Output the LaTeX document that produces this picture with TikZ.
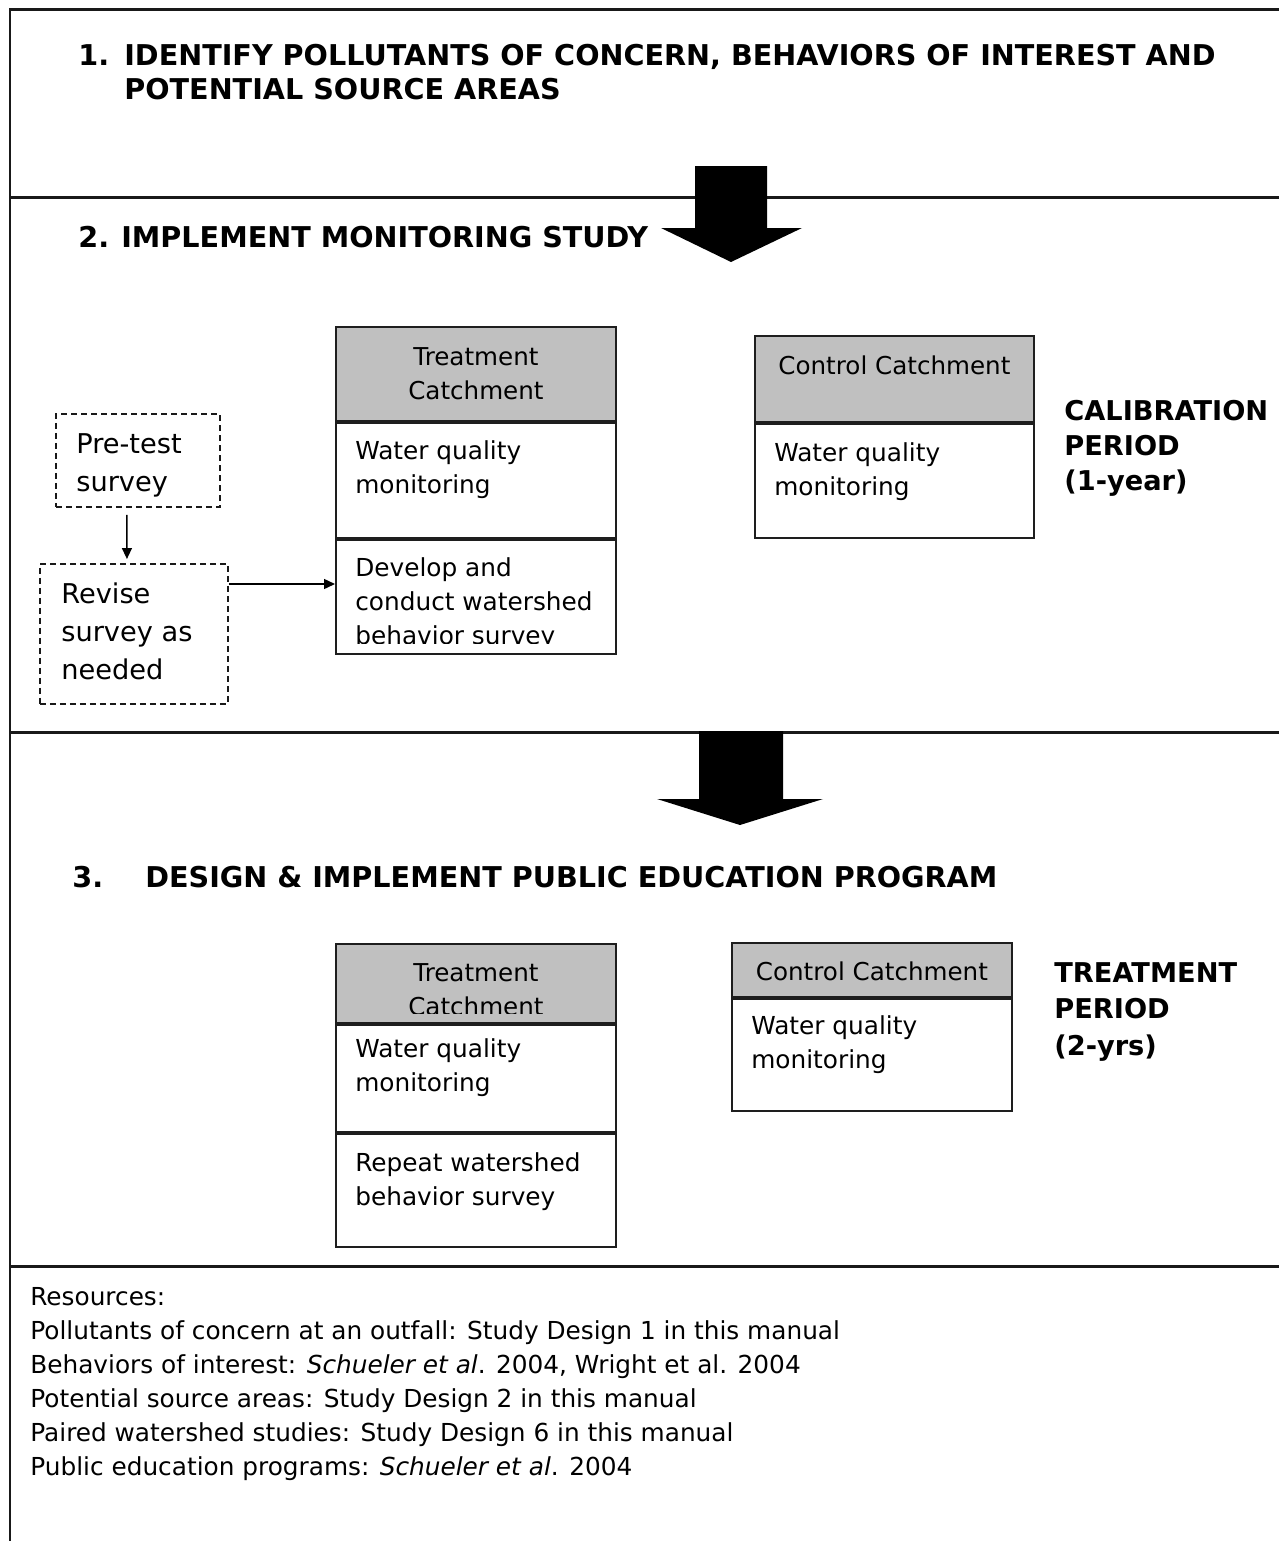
\documentclass[tikz,border=0pt]{standalone}
\usepackage{fontspec}
\setmainfont{DejaVu Sans}
\usepackage{tikz}
\usetikzlibrary{positioning, calc, arrows.meta}
\usepackage{xcolor}
\definecolor{hdrgray}{HTML}{C0C0C0}
\definecolor{boxline}{HTML}{1E1E1E}

\tikzstyle{secbox} = [%
  rectangle,
  draw=boxline,
  line width=1.1pt,
  minimum width=5.6cm,
  inner sep=0pt,
  fill=white
]
\tikzstyle{hdrbox} = [secbox, fill=hdrgray]
\tikzstyle{dbox} = [%
  rectangle,
  draw=black!90,
  dash pattern=on 0.12cm off 0.08cm,
  line width=1.1pt,
  inner sep=0pt,
  anchor=north west
]

\begin{document}
\begin{tikzpicture}[%
  x=0.02cm, y=-0.02cm,
  >={Triangle[length=0.22cm,width=0.2cm]},
  frame/.style={draw=black!90, line width=0.06cm},
  link/.style={->, line width=0.8pt},
  btext/.style={anchor=base west, align=left, inner sep=0pt,
    font=\fontsize{14.1}{19.35}\selectfont},
  ctext/.style={anchor=base, align=center, inner sep=0pt,
    font=\fontsize{14}{19.35}\selectfont},
  dtext/.style={anchor=base west, align=left, inner sep=0pt,
    font=\fontsize{15.5}{21.6}\selectfont},
  headtext/.style={anchor=base west, align=left, inner sep=0pt,
    font=\fontsize{16.3}{19.9}\selectfont\bfseries},
  period/.style={anchor=base west, align=left, inner sep=0pt,
    font=\fontsize{15.5}{19.9}\selectfont\bfseries}
]
  \useasboundingbox (0,0) rectangle (1278,1541);

  % Frame and phase separators
  \draw[frame] (1290,10) -- (10,10) -- (10,1545);
  \foreach \yy in {197,732,1266}
    \draw[frame] (10,\yy) -- (1290,\yy);

  % Headings (base = last line)
  \node[headtext] (H1) at (78,100) {\makebox[0.92cm][l]{1.}IDENTIFY POLLUTANTS OF CONCERN, BEHAVIORS OF INTEREST AND\\\hspace*{0.92cm}POTENTIAL SOURCE AREAS};
  \node[headtext] (H2) at (78,247) {\makebox[0.86cm][l]{2.}IMPLEMENT MONITORING STUDY};
  \node[headtext] (H3) at (72,887) {\makebox[1.46cm][l]{3.}DESIGN \& IMPLEMENT PUBLIC EDUCATION PROGRAM};

  % Block arrows
  \fill (695,166) -- (767,166) -- (767,228) -- (802,228) -- (731,262) -- (661,228) -- (695,228) -- cycle;
  \fill (699,731) -- (783,731) -- (783,799) -- (823,799) -- (740,825) -- (657,799) -- (699,799) -- cycle;

  % Calibration period: treatment catchment
  \node[hdrbox, minimum height=1.88cm, anchor=north west] (T1h) at (335,326) {};
  \node[secbox, minimum height=2.30cm, below=0pt of T1h] (T1a) {};
  \node[secbox, minimum height=2.28cm, below=0pt of T1a] (T1b) {};
  \node[ctext] (T1ht) at ($(T1h.north)+(0,73)$) {Treatment\\Catchment};
  \node[btext] (T1at) at ($(T1a.north west)+(20,72)$) {Water quality\\monitoring};
  \begin{scope}
    \clip (T1b.north west) rectangle ($(T1b.south east)+(0,-11)$);
    \node[btext] (T1bt) at ($(T1b.north west)+(20,106)$) {Develop and\\conduct watershed\\behavior survey};
  \end{scope}

  % Calibration period: control catchment
  \node[hdrbox, minimum width=5.58cm, minimum height=1.72cm, anchor=north west] (C1h) at (754,335) {};
  \node[secbox, minimum width=5.58cm, minimum height=2.28cm, below=0pt of C1h] (C1a) {};
  \node[ctext] (C1ht) at ($(C1h.north)+(0,39)$) {Control Catchment};
  \node[btext] (C1at) at ($(C1a.north west)+(20,73)$) {Water quality\\monitoring};

  \node[period] (L1) at (1064,490) {CALIBRATION\\PERIOD\\(1-year)};

  % Survey pre-test
  \node[dbox, minimum width=3.28cm, minimum height=1.86cm] (pre) at (55,413) {};
  \node[dtext] (pret) at ($(pre.north west)+(21,78)$) {Pre-test\\survey};
  \node[dbox, minimum width=3.76cm, minimum height=2.8cm] (rev) at (39,563) {};
  \node[dtext] (revt) at ($(rev.north west)+(22,116)$) {Revise\\survey as\\needed};
  \draw[link] ($(pre.south)+(-11,7)$) -- ($(rev.north)+(-7,-4)$);
  \draw[link] ($(rev.north east)+(0,21)$) coordinate (rv) -- (rv -| T1b.west);

  % Treatment period: treatment catchment
  \node[hdrbox, minimum height=1.58cm, anchor=north west] (T2h) at (335,943) {};
  \node[secbox, minimum height=2.14cm, below=0pt of T2h] (T2a) {};
  \node[secbox, minimum height=2.26cm, below=0pt of T2a] (T2b) {};
  \begin{scope}
    \clip (T2h.north west) rectangle ($(T2h.south east)+(0,-10)$);
    \node[ctext] (T2ht) at ($(T2h.north)+(0,72)$) {Treatment\\Catchment};
  \end{scope}
  \node[btext] (T2at) at ($(T2a.north west)+(20,68)$) {Water quality\\monitoring};
  \node[btext] (T2bt) at ($(T2b.north west)+(20,73)$) {Repeat watershed\\behavior survey};

  % Treatment period: control catchment
  \node[hdrbox, minimum height=1.08cm, anchor=north west] (C2h) at (731,942) {};
  \node[secbox, minimum height=2.24cm, below=0pt of C2h] (C2a) {};
  \node[ctext] (C2ht) at ($(C2h.north)+(0,38)$) {Control Catchment};
  \node[btext] (C2at) at ($(C2a.north west)+(20,71)$) {Water quality\\monitoring};

  \node[period, font=\fontsize{15.5}{20.7}\selectfont\bfseries] (L2) at (1054,1055) {TREATMENT\\PERIOD\\(2-yrs)};

  % Resources
  \node[btext] (res) at (30,1475) {Resources:\\
    Pollutants of concern at an outfall: Study Design 1 in this manual\\
    Behaviors of interest: \textit{Schueler et al}. 2004, Wright et al. 2004\\
    Potential source areas: Study Design 2 in this manual\\
    Paired watershed studies: Study Design 6 in this manual\\
    Public education programs: \textit{Schueler et al}. 2004};

\end{tikzpicture}
\end{document}
